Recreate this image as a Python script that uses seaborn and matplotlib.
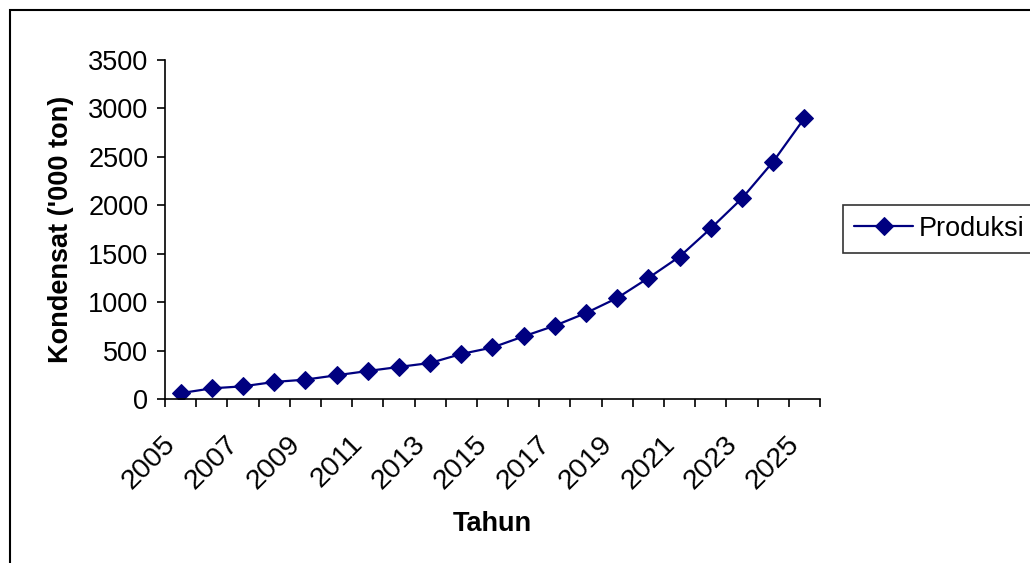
import pandas as pd
import seaborn as sns
import matplotlib.pyplot as plt
from matplotlib.patches import Rectangle
from matplotlib.transforms import ScaledTranslation

# data
tahun = list(range(2005, 2026))
produksi = [60, 110, 131, 176, 200, 245, 289, 331, 372, 465, 532,
            647, 757, 888, 1043, 1250, 1470, 1762, 2072, 2451, 2899]
tick_tahun = list(range(2005, 2026, 2))

data = pd.DataFrame({"Tahun": tahun, "Produksi": produksi})

sns.set_style("white")
plt.rcParams["font.family"] = ["Liberation Sans", "DejaVu Sans"]
plt.rcParams["text.color"] = "black"
plt.rcParams["axes.labelcolor"] = "black"
plt.rcParams["xtick.color"] = "black"
plt.rcParams["ytick.color"] = "black"

fs = 19.5

fig = plt.figure(figsize=(10.3, 5.63), dpi=100)
ax = fig.add_axes([165 / 1030, 1 - 399 / 563, 655 / 1030, 339 / 563])

sns.lineplot(data=data, x="Tahun", y="Produksi", ax=ax, color="#000080",
             marker="D", markersize=9, markeredgecolor="#000080",
             linewidth=1.6, label="Produksi")

ax.set_xlim(2004.5, 2025.5)
ax.set_ylim(0, 3500)
ax.set_yticks(range(0, 3501, 500))
ax.set_xticks(tick_tahun)
ax.set_xticklabels([str(t) for t in tick_tahun], rotation=45,
                   ha="right", rotation_mode="anchor")
ax.set_xticks([t - 0.5 for t in tahun] + [2025.5], minor=True)
ax.tick_params(axis="x", which="major", length=0, pad=23, labelsize=20.5)
ax.tick_params(axis="x", which="minor", length=6, width=1.2, color="black",
               bottom=True)
ax.tick_params(axis="y", length=6, width=1.2, color="black", left=True,
               labelsize=fs, pad=6)
shift = ScaledTranslation(-18 / 100, 0, fig.dpi_scale_trans)
for lbl in ax.get_xticklabels():
    lbl.set_transform(lbl.get_transform() + shift)

for s in ["top", "right"]:
    ax.spines[s].set_visible(False)
for s in ["left", "bottom"]:
    ax.spines[s].set_color("black")
    ax.spines[s].set_linewidth(1.2)

ax.set_xlabel("Tahun", fontsize=fs, fontweight="bold", labelpad=12)
ax.set_ylabel("Kondensat ('000 ton)", fontsize=fs, fontweight="bold",
              labelpad=10)

leg = ax.legend(loc="upper left", bbox_to_anchor=(843 / 1030, 1 - 205 / 563),
                bbox_transform=fig.transFigure, frameon=True, fancybox=False,
                edgecolor="black", fontsize=fs, handlelength=2.2,
                borderaxespad=0, borderpad=0.4, handletextpad=0.2)
leg.get_frame().set_linewidth(1.2)

# outer chart border (cut off at right and bottom as in the reference)
fig.patches.append(Rectangle((10 / 1030, -0.1), 1.2, 1 - 10 / 563 + 0.1,
                             transform=fig.transFigure, fill=False,
                             edgecolor="black", linewidth=1.5))

fig.savefig("out.png", dpi=100)
